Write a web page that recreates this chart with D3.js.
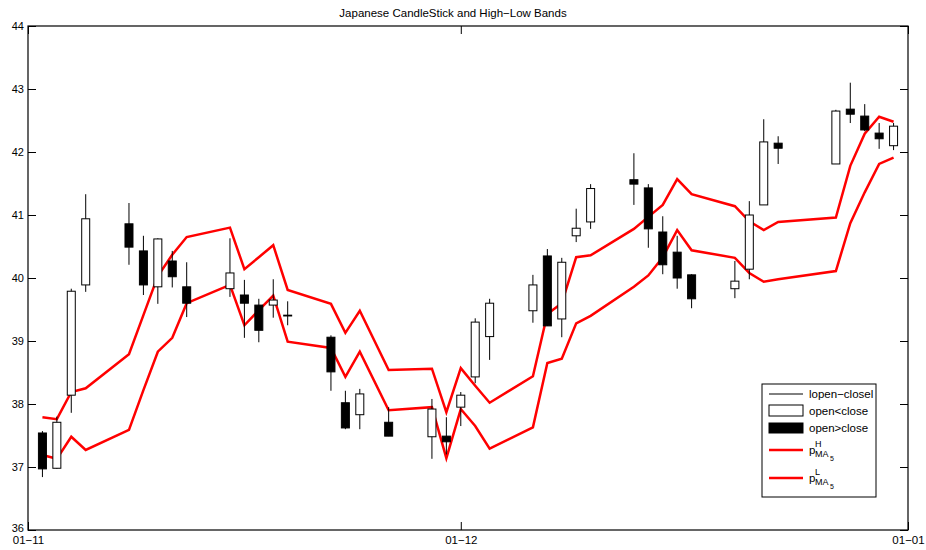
<!DOCTYPE html>
<html>
<head>
<meta charset="utf-8">
<script src="https://cdn.jsdelivr.net/npm/d3@7"></script>
<style>
  body { margin: 0; background: #fff; }
  svg { display: block; font-family: "Liberation Sans", Arial, sans-serif; }
</style>
</head>
<body>
<script>
// trading days, Nov 2010 - Dec 2010
const dates = ["2010-11-02","2010-11-03","2010-11-04","2010-11-05","2010-11-08","2010-11-09","2010-11-10","2010-11-11","2010-11-12",
  "2010-11-15","2010-11-16","2010-11-17","2010-11-18","2010-11-19","2010-11-22","2010-11-23","2010-11-24","2010-11-26",
  "2010-11-29","2010-11-30","2010-12-01","2010-12-02","2010-12-03","2010-12-06","2010-12-07","2010-12-08","2010-12-09","2010-12-10",
  "2010-12-13","2010-12-14","2010-12-15","2010-12-16","2010-12-17","2010-12-20","2010-12-21","2010-12-22","2010-12-23",
  "2010-12-27","2010-12-28","2010-12-29","2010-12-30","2010-12-31"];
const openVals = [37.54,36.98,38.14,39.89,40.86,40.43,39.86,40.27,39.86,39.83,39.73,39.57,39.57,39.41,39.06,38.02,37.83,37.71,
  37.48,37.49,37.95,38.43,39.07,39.48,40.35,39.35,40.67,40.89,41.56,41.43,40.73,40.41,40.05,39.83,40.14,41.16,42.14,41.81,42.68,42.57,42.30,42.10];
const closeVals = [36.97,37.71,39.79,40.94,40.49,39.89,40.62,40.02,39.60,40.08,39.60,39.17,39.65,39.41,38.51,37.62,38.16,37.49,
  37.92,37.40,38.14,39.30,39.60,39.89,39.24,40.25,40.79,41.42,41.49,40.78,40.21,40.00,39.67,39.95,41.00,42.16,42.06,42.65,42.60,42.35,42.21,42.41];
const highVals = [37.57,37.80,39.83,41.33,41.19,40.67,40.63,40.43,40.25,40.63,39.97,39.67,39.98,39.63,39.09,38.21,38.24,37.95,
  38.08,37.79,38.19,39.36,39.67,40.05,40.46,40.32,41.10,41.49,41.98,41.49,40.98,40.67,40.06,40.27,41.22,42.52,42.25,42.67,43.10,42.76,42.46,42.46];
const lowVals = [36.84,36.97,37.86,39.78,40.21,39.73,39.59,39.85,39.38,39.70,39.05,38.98,39.37,39.25,38.21,37.60,37.60,37.49,
  37.13,37.20,37.65,38.33,38.70,39.29,39.24,39.06,40.57,40.78,41.16,40.48,40.06,39.83,39.52,39.68,39.98,41.16,41.81,41.81,42.46,42.33,42.05,42.03];
const bandHigh = [37.79,37.76,38.19,38.25,38.79,39.41,40.03,40.37,40.65,40.80,40.14,40.33,40.52,39.81,39.59,39.13,39.48,38.54,
  38.56,37.87,38.57,38.29,38.02,38.44,39.43,39.60,40.33,40.36,40.78,40.97,41.16,41.57,41.33,41.14,40.90,40.76,40.89,40.96,41.78,42.29,42.56,42.48];
const bandLow = [37.19,37.13,37.48,37.27,37.59,38.22,38.83,39.05,39.60,39.89,39.25,39.49,39.72,38.99,38.89,38.43,38.83,37.90,
  37.95,37.14,37.92,37.65,37.29,37.63,38.65,38.72,39.28,39.40,39.86,40.04,40.33,40.76,40.44,40.32,40.08,39.94,39.98,40.11,40.87,41.36,41.81,41.91];
const yTicks = [36,37,38,39,40,41,42,43,44];
const xTicks = ["2010-11-01","2010-12-01","2011-01-01"];
const legendLabels = ["lopen\u2212closel", "open<close", "open>close"];
const titleText = "Japanese CandleStick and High\u2212Low Bands";

const W = 926, H = 550;
const margin = { top: 26, right: 18, bottom: 20, left: 28 };
const parseDate = d3.timeParse("%Y-%m-%d");

const rows = dates.map((d, i) => ({
  date: parseDate(d), open: openVals[i], close: closeVals[i],
  high: highVals[i], low: lowVals[i], bh: bandHigh[i], bl: bandLow[i]
}));

const svg = d3.select("body").append("svg").attr("width", W).attr("height", H);

const x = d3.scaleTime()
  .domain([parseDate(xTicks[0]), parseDate(xTicks[2])])
  .range([margin.left, W - margin.right]);
const y = d3.scaleLinear().domain([36, 44]).range([H - margin.bottom, margin.top]);

// title
svg.append("text")
  .attr("x", 453).attr("y", 17)
  .attr("text-anchor", "middle")
  .attr("font-size", 11.5)
  .text(titleText);

// bands first, candles are drawn over them
const line = key => d3.line().x(d => x(d.date)).y(d => y(d[key]));
["bh", "bl"].forEach(k => {
  svg.append("path").datum(rows)
    .attr("d", line(k))
    .attr("fill", "none")
    .attr("stroke", "#ff0000")
    .attr("stroke-width", 2.5)
    .attr("stroke-linejoin", "miter");
});

const bodyW = 8;
const candles = svg.append("g");
candles.selectAll("line").data(rows).enter().append("line")
  .attr("x1", d => x(d.date)).attr("x2", d => x(d.date))
  .attr("y1", d => y(d.high)).attr("y2", d => y(d.low))
  .attr("stroke", "#000").attr("stroke-width", 1);
candles.selectAll("rect").data(rows).enter().append("rect")
  .attr("x", d => x(d.date) - bodyW / 2)
  .attr("width", bodyW)
  .attr("y", d => y(Math.max(d.open, d.close)))
  .attr("height", d => Math.max(0.8, Math.abs(y(d.open) - y(d.close))))
  .attr("fill", d => d.open > d.close ? "#000" : "#fff")
  .attr("stroke", "#000").attr("stroke-width", 1);

// axes with inward ticks
const tick = 8;
const tickDates = xTicks.map(parseDate);
svg.append("g")
  .attr("transform", `translate(${margin.left},0)`)
  .call(d3.axisLeft(y).tickValues(yTicks).tickSize(-tick).tickPadding(4).tickFormat(d3.format("d")))
  .call(g => g.select(".domain").remove())
  .call(g => g.selectAll("text").attr("font-size", 11).attr("fill", "#000")
    .attr("dy", d => d === 36 ? "0.1em" : "0.32em"));
svg.append("g")
  .attr("transform", `translate(${W - margin.right},0)`)
  .call(d3.axisRight(y).tickValues(yTicks).tickSize(-tick).tickFormat(""))
  .call(g => g.select(".domain").remove());
svg.append("g")
  .attr("transform", `translate(0,${H - margin.bottom})`)
  .call(d3.axisBottom(x).tickValues(tickDates).tickSize(-tick).tickPadding(6).tickFormat(d3.timeFormat("%d-%m")))
  .call(g => g.select(".domain").remove())
  .call(g => g.selectAll("text").attr("font-size", 11.5).attr("fill", "#000")
    .text(d => d3.timeFormat("%d-%m")(d).replace("-", "\u2212")));
svg.append("g")
  .attr("transform", `translate(0,${margin.top})`)
  .call(d3.axisTop(x).tickValues(tickDates).tickSize(-tick).tickFormat(""))
  .call(g => g.select(".domain").remove());

svg.append("rect")
  .attr("x", margin.left).attr("y", margin.top)
  .attr("width", W - margin.left - margin.right)
  .attr("height", H - margin.top - margin.bottom)
  .attr("fill", "none").attr("stroke", "#000").attr("stroke-width", 1.2);

// legend
const lg = svg.append("g").attr("transform", "translate(762,384)");
lg.append("rect").attr("width", 114).attr("height", 113)
  .attr("fill", "#fff").attr("stroke", "#000").attr("stroke-width", 1);
const sx0 = 7, sx1 = 41, tx = 47;
lg.append("line").attr("x1", sx0).attr("x2", sx1).attr("y1", 10).attr("y2", 10)
  .attr("stroke", "#000").attr("stroke-width", 1);
lg.append("rect").attr("x", sx0).attr("y", 21).attr("width", sx1 - sx0).attr("height", 11)
  .attr("fill", "#fff").attr("stroke", "#000");
lg.append("rect").attr("x", sx0).attr("y", 39).attr("width", sx1 - sx0).attr("height", 10)
  .attr("fill", "#000").attr("stroke", "#000");
[10, 27, 44].forEach((ly, i) => {
  lg.append("text").attr("x", tx).attr("y", ly + 4).attr("font-size", 11.5).text(legendLabels[i]);
});
[["H", 66], ["L", 94]].forEach(([sup, ly]) => {
  lg.append("line").attr("x1", sx0).attr("x2", sx1).attr("y1", ly).attr("y2", ly)
    .attr("stroke", "#ff0000").attr("stroke-width", 2.5);
  const t = lg.append("text").attr("x", tx).attr("y", ly + 4).attr("font-size", 11.5);
  t.append("tspan").text("p");
  t.append("tspan").attr("x", tx + 6).attr("y", ly - 3).attr("font-size", 9).text(sup);
  t.append("tspan").attr("x", tx + 6).attr("y", ly + 7).attr("font-size", 9).text("MA");
  t.append("tspan").attr("x", tx + 21).attr("y", ly + 11).attr("font-size", 7).text("5");
});
</script>
</body>
</html>
